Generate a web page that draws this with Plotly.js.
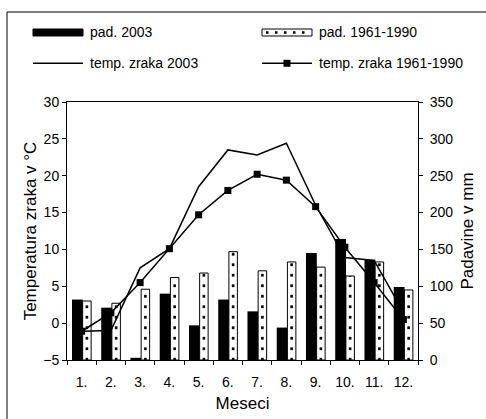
<!DOCTYPE html>
<html>
<head>
<meta charset="utf-8">
<script src="https://cdn.plot.ly/plotly-3.0.1.min.js"></script>
<style>
html,body{margin:0;padding:0;background:#fff;}
#chart{width:486px;height:419px;}
</style>
</head>
<body>
<div id="chart"></div>
<script>
// Data
var months = ['1.', '2.', '3.', '4.', '5.', '6.', '7.', '8.', '9.', '10.', '11.', '12.'];
var pad2003 = [82, 71, 3, 90, 47, 82, 66, 44, 145, 164, 136, 99];
var pad6190 = [80, 77, 96, 112, 118, 147, 121, 133, 126, 114, 133, 95];
var temp2003 = [-1.1, -1.0, 7.5, 10.1, 18.5, 23.5, 22.8, 24.4, 16.0, 8.9, 8.5, 1.5];
var temp6190 = [-1.1, 1.4, 5.5, 10.1, 14.7, 18.0, 20.2, 19.4, 15.8, 10.3, 5.5, 0.5];

var names = ['pad. 2003', 'pad. 1961-1990', 'temp. zraka 2003', 'temp. zraka 1961-1990'];
var FONT = 'Liberation Sans, Arial, sans-serif';

var traces = [
  {
    type: 'bar', name: names[0], x: months, y: pad2003, yaxis: 'y',
    offset: -0.33, width: 0.37,
    marker: {color: '#000000', line: {width: 0}},
    showlegend: false
  },
  {
    type: 'bar', name: names[1], x: months, y: pad6190, yaxis: 'y',
    offset: 0.035, width: 0.29,
    marker: {color: '#ffffff', line: {color: '#000000', width: 1}},
    showlegend: false
  },
  {
    type: 'bar', name: names[1] + ' (vzorec)', x: months, y: pad6190, yaxis: 'y',
    offset: 0.135, width: 0.09,
    marker: {color: '#000000', line: {width: 0},
      pattern: {shape: '-', fillmode: 'replace', size: 10.5, solidity: 0.26}},
    hoverinfo: 'skip', showlegend: false
  },
  {
    type: 'scatter', mode: 'lines', name: names[2], x: months, y: temp2003, yaxis: 'y2',
    line: {color: '#000000', width: 1.5},
    showlegend: false
  },
  {
    type: 'scatter', mode: 'lines+markers', name: names[3], x: months, y: temp6190, yaxis: 'y2',
    line: {color: '#000000', width: 1.5},
    marker: {symbol: 'square', size: 7, color: '#000000'},
    showlegend: false
  }
];

function px2x(p) { return (p - 67) / 351; }
function px2y(p) { return (360 - p) / 258; }

var shapes = [
  // outer chart border (extends past the picture on right and bottom)
  {type: 'rect', xref: 'paper', yref: 'paper', x0: px2x(7), x1: 1.6, y0: -0.6, y1: px2y(12),
   line: {color: '#000000', width: 1}, fillcolor: 'rgba(0,0,0,0)', layer: 'above'},
  // legend: pad. 2003
  {type: 'rect', xref: 'paper', yref: 'paper', x0: px2x(33), x1: px2x(83), y0: px2y(36), y1: px2y(29),
   line: {color: '#000000', width: 1}, fillcolor: '#000000'},
  // legend: pad. 1961-1990
  {type: 'rect', xref: 'paper', yref: 'paper', x0: px2x(262), x1: px2x(312), y0: px2y(36), y1: px2y(29),
   line: {color: '#000000', width: 1}, fillcolor: '#ffffff'},
  {type: 'line', xref: 'paper', yref: 'paper', x0: px2x(266), x1: px2x(310), y0: px2y(32.5), y1: px2y(32.5),
   line: {color: '#000000', width: 2.5, dash: '2.5px,6.5px'}},
  // legend: temp 2003
  {type: 'line', xref: 'paper', yref: 'paper', x0: px2x(33), x1: px2x(83), y0: px2y(63.3), y1: px2y(63.3),
   line: {color: '#000000', width: 1.5}},
  // legend: temp 1961-1990
  {type: 'line', xref: 'paper', yref: 'paper', x0: px2x(262), x1: px2x(312), y0: px2y(63.3), y1: px2y(63.3),
   line: {color: '#000000', width: 1.5}},
  {type: 'rect', xref: 'paper', yref: 'paper', x0: px2x(283.5), x1: px2x(290.5), y0: px2y(66.8), y1: px2y(59.8),
   line: {width: 0}, fillcolor: '#000000'}
];

var annotations = [
  {text: names[0], x: px2x(88), y: px2y(32.5)},
  {text: names[1], x: px2x(317), y: px2y(32.5)},
  {text: names[2], x: px2x(88), y: px2y(63.3)},
  {text: names[3], x: px2x(317), y: px2y(63.3)}
].map(function(a) {
  return {text: a.text, x: a.x, y: a.y, xref: 'paper', yref: 'paper', xanchor: 'left', yanchor: 'middle',
    showarrow: false, font: {family: FONT, size: 14, color: '#000000'}};
});

var axisCommon = {
  showline: true, linecolor: '#000000', linewidth: 1,
  ticks: 'outside', ticklen: 4, tickcolor: '#000000', tickwidth: 1,
  showgrid: false, zeroline: false, fixedrange: true,
  tickfont: {family: FONT, size: 14, color: '#000000'}
};

var layout = {
  width: 486, height: 419,
  margin: {l: 67, r: 68, t: 102, b: 59, pad: 0},
  paper_bgcolor: '#ffffff', plot_bgcolor: '#ffffff',
  font: {family: FONT, size: 14, color: '#000000'},
  showlegend: false,
  barmode: 'overlay',
  xaxis: Object.assign({}, axisCommon, {
    type: 'category', categoryarray: months, categoryorder: 'array',
    range: [-0.5, 11.5], tickson: 'boundaries', mirror: true,
    ticklabelstandoff: 9,
    title: {text: 'Meseci', font: {family: FONT, size: 17, color: '#000000'}, standoff: 8}
  }),
  yaxis: Object.assign({}, axisCommon, {
    side: 'right', range: [0, 350], dtick: 50, tick0: 0,
    ticklabelstandoff: 4,
    title: {text: 'Padavine v mm', font: {family: FONT, size: 17, color: '#000000'}, standoff: 8}
  }),
  yaxis2: Object.assign({}, axisCommon, {
    overlaying: 'y', side: 'left', range: [-5, 30], dtick: 5, tick0: -5,
    title: {text: 'Temperatura zraka v °C', font: {family: FONT, size: 17, color: '#000000'}, standoff: 2}
  }),
  shapes: shapes,
  annotations: annotations
};

Plotly.newPlot('chart', traces, layout, {displayModeBar: false, staticPlot: true});
</script>
</body>
</html>
